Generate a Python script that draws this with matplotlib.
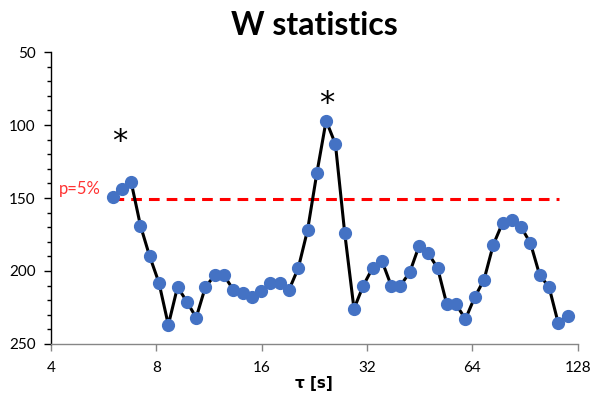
import matplotlib
matplotlib.use("Agg")
import matplotlib.pyplot as plt
from matplotlib.ticker import FixedLocator, MultipleLocator, NullLocator

plt.rcParams['font.family'] = ['Lato', 'DejaVu Sans']

tau = [6.00, 6.38, 6.78, 7.21, 7.66, 8.14, 8.66, 9.20, 9.78, 10.40,
       11.05, 11.75, 12.49, 13.28, 14.11, 15.00, 15.95, 16.95, 18.02, 19.15,
       20.36, 21.64, 23.00, 24.45, 25.99, 27.63, 29.37, 31.22, 33.19, 35.28,
       37.50, 39.86, 42.37, 45.04, 47.88, 50.90, 54.10, 57.51, 61.13, 64.98,
       69.08, 73.43, 78.06, 82.97, 88.20, 93.76, 99.66, 105.94, 112.61, 119.70]
W = [149, 144, 139, 169, 190, 208, 237, 211, 221, 232,
     211, 203, 203, 213, 215, 218, 214, 208, 208, 213,
     198, 172, 133, 97, 113, 174, 226, 210, 198, 193,
     210, 210, 201, 183, 188, 198, 223, 223, 233, 218,
     206, 182, 167, 165, 170, 181, 203, 211, 236, 231]
threshold_x = [6.0, 113.0]
threshold_y = [151, 151]
x_ticks = [4, 8, 16, 32, 64, 128]
y_ticks = [50, 100, 150, 200, 250]
star_x = [6.3, 24.6]
star_y = [117, 91]

fig = plt.figure(figsize=(5.92, 3.98), dpi=100)
ax = fig.add_axes([0.086, 0.136, 0.890, 0.733])

ax.plot(threshold_x, threshold_y, color='#FF0000', lw=2.2, dashes=(3.5, 2.3), zorder=2)
ax.plot(tau, W, color='black', lw=2.2, marker='o', ms=8.5, mfc='#4472C4', mec='#4472C4', zorder=3)

ax.set_xscale('log', base=2)
ax.set_xlim(4, 128)
ax.set_ylim(250, 50)
ax.xaxis.set_major_locator(FixedLocator(x_ticks))
ax.xaxis.set_minor_locator(NullLocator())
ax.set_xticklabels([str(v) for v in x_ticks])
ax.yaxis.set_major_locator(FixedLocator(y_ticks))
ax.yaxis.set_minor_locator(MultipleLocator(10))

for s in ['top', 'right']:
    ax.spines[s].set_visible(False)
ax.spines['left'].set_color('black')
ax.spines['bottom'].set_color('#868686')
ax.spines['left'].set_linewidth(1.0)
ax.spines['bottom'].set_linewidth(1.0)

ax.tick_params(axis='y', which='major', direction='out', length=5, width=1, pad=6, labelsize=11, colors='black')
ax.tick_params(axis='y', which='minor', direction='out', length=3, width=1)
ax.tick_params(axis='x', which='major', direction='out', length=5, width=1, pad=7, labelsize=11,
               color='#868686', labelcolor='black')

ax.set_title('W statistics', fontsize=23, fontweight='bold', pad=12)
ax.set_xlabel('τ [s]', fontsize=11, fontweight='bold', labelpad=1, family=['DejaVu Sans'])

for sx, sy in zip(star_x, star_y):
    ax.text(sx, sy, '*', fontsize=22, ha='center', va='baseline', color='black',
            family=['DejaVu Sans'])

ax.text(4.22, 143.5, 'p=5%', fontsize=12, color='#FF3333', ha='left', va='center')

fig.savefig('out.png', dpi=100)
